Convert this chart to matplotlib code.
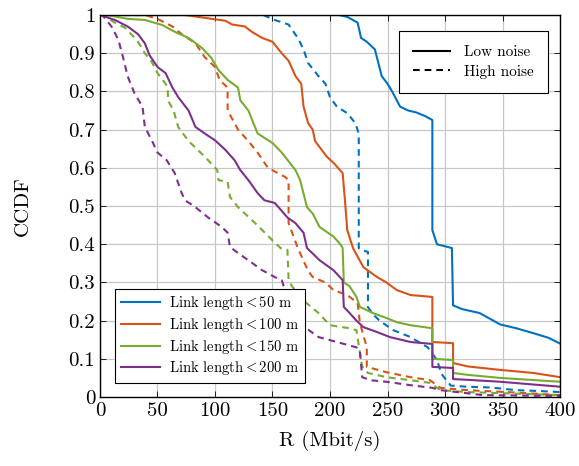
import matplotlib
matplotlib.use("Agg")
import matplotlib.pyplot as plt
from matplotlib.lines import Line2D

plt.rcParams["font.family"] = "cmr10"
plt.rcParams["mathtext.fontset"] = "cm"
plt.rcParams["axes.formatter.use_mathtext"] = True

# cores padrao do MATLAB
C_BLUE = "#0072BD"
C_ORANGE = "#D95319"
C_GREEN = "#77AC30"
C_PURPLE = "#7E2F8E"

labels = ["Link length$<$50 m", "Link length$<$100 m",
          "Link length$<$150 m", "Link length$<$200 m"]

# link < 50 m
low50_x = [0, 208, 215, 224, 227, 232, 239, 245, 250, 254, 261, 268, 275, 283, 289, 289,
           293, 306, 307, 315, 330, 348, 362, 377, 390, 400]
low50_y = [1, 1, 0.995, 0.98, 0.94, 0.93, 0.91, 0.84, 0.82, 0.80, 0.76, 0.75, 0.745, 0.735,
           0.725, 0.437, 0.40, 0.39, 0.24, 0.23, 0.22, 0.19, 0.18, 0.167, 0.155, 0.14]
high50_x = [0, 142, 152, 164, 172, 177, 181, 190, 196, 200, 206, 215, 222, 225, 225, 227,
            233, 233, 238, 243, 255, 270, 285, 293, 297, 305, 319, 340, 362, 380, 400]
high50_y = [1, 1, 0.987, 0.975, 0.94, 0.91, 0.874, 0.84, 0.82, 0.785, 0.76, 0.743, 0.717,
            0.69, 0.39, 0.385, 0.38, 0.235, 0.215, 0.2, 0.175, 0.157, 0.13, 0.097, 0.06,
            0.03, 0.027, 0.025, 0.018, 0.016, 0.013]

# link < 100 m
low100_x = [0, 74, 97, 109, 115, 126, 132, 141, 150, 158, 164, 170, 175, 177, 181, 185, 187,
            197, 204, 211, 213, 215, 220, 229, 241, 249, 258, 270, 289, 289, 307, 307, 320,
            348, 377, 400]
low100_y = [1, 1, 0.99, 0.985, 0.975, 0.97, 0.956, 0.94, 0.93, 0.90, 0.88, 0.84, 0.82, 0.76,
            0.717, 0.70, 0.67, 0.63, 0.61, 0.586, 0.515, 0.437, 0.39, 0.34, 0.314, 0.30, 0.28,
            0.267, 0.262, 0.144, 0.141, 0.089, 0.08, 0.071, 0.063, 0.052]
high100_x = [0, 39, 50, 63, 71, 83, 91, 100, 104, 111, 111, 120, 129, 137, 146, 161, 164, 164,
             172, 181, 185, 196, 203, 215, 224, 226, 232, 232, 249, 270, 287, 296, 319, 360, 400]
high100_y = [1, 1, 0.99, 0.97, 0.95, 0.926, 0.89, 0.864, 0.83, 0.81, 0.75, 0.70, 0.67, 0.64,
             0.60, 0.576, 0.568, 0.455, 0.39, 0.33, 0.314, 0.30, 0.28, 0.267, 0.246, 0.194,
             0.13, 0.079, 0.065, 0.052, 0.044, 0.024, 0.018, 0.012, 0.005]

# link < 150 m
low150_x = [0, 10, 24, 39, 54, 65, 77, 89, 97, 103, 111, 120, 122, 129, 137, 150, 158, 170,
            174, 180, 185, 191, 203, 209, 211, 212, 217, 223, 226, 237, 249, 258, 270, 289,
            289, 307, 307, 320, 348, 400]
low150_y = [1, 0.998, 0.99, 0.987, 0.974, 0.956, 0.94, 0.913, 0.887, 0.856, 0.83, 0.81, 0.777,
            0.75, 0.69, 0.665, 0.64, 0.594, 0.568, 0.497, 0.48, 0.445, 0.42, 0.40, 0.39, 0.30,
            0.29, 0.262, 0.236, 0.22, 0.207, 0.196, 0.188, 0.18, 0.10, 0.097, 0.063, 0.058,
            0.05, 0.04]
high150_x = [0, 2, 13, 22, 28, 33, 39, 45, 50, 57, 59, 59, 64, 68, 77, 85, 94, 102, 103, 111,
             113, 120, 135, 150, 157, 163, 164, 167, 176, 190, 200, 217, 223, 226, 228, 233,
             249, 270, 287, 296, 319, 360, 400]
high150_y = [1, 1, 0.98, 0.966, 0.947, 0.93, 0.90, 0.877, 0.848, 0.82, 0.81, 0.777, 0.75,
             0.707, 0.67, 0.647, 0.62, 0.594, 0.568, 0.563, 0.524, 0.497, 0.455, 0.41, 0.39,
             0.385, 0.306, 0.29, 0.255, 0.22, 0.188, 0.18, 0.175, 0.115, 0.08, 0.063, 0.052,
             0.044, 0.037, 0.018, 0.013, 0.009, 0.005]

# link < 200 m
low200_x = [0, 13, 24, 33, 39, 43, 50, 57, 63, 68, 77, 83, 91, 100, 109, 117, 122, 129, 137,
            143, 152, 163, 170, 177, 180, 191, 203, 211, 212, 217, 223, 229, 241, 252, 270,
            289, 289, 307, 307, 320, 348, 400]
low200_y = [1, 0.987, 0.97, 0.95, 0.926, 0.895, 0.864, 0.848, 0.81, 0.785, 0.75, 0.707, 0.69,
            0.672, 0.647, 0.62, 0.594, 0.568, 0.534, 0.515, 0.508, 0.47, 0.455, 0.43, 0.39,
            0.358, 0.332, 0.306, 0.236, 0.22, 0.20, 0.183, 0.17, 0.157, 0.144, 0.139, 0.079,
            0.076, 0.047, 0.045, 0.04, 0.027]
high200_x = [0, 2, 10, 16, 20, 24, 30, 37, 39, 45, 50, 58, 65, 71, 74, 83, 94, 106, 111, 113,
             120, 129, 141, 152, 158, 170, 190, 206, 223, 226, 228, 235, 249, 270, 289, 296,
             319, 333, 400]
high200_y = [1, 1, 0.97, 0.935, 0.89, 0.84, 0.795, 0.76, 0.707, 0.672, 0.64, 0.62, 0.586,
             0.534, 0.515, 0.497, 0.47, 0.445, 0.43, 0.393, 0.377, 0.358, 0.332, 0.314, 0.306,
             0.2, 0.157, 0.144, 0.13, 0.12, 0.052, 0.044, 0.04, 0.031, 0.024, 0.018, 0.01,
             0.005, 0.003]

x_ticks = [0, 50, 100, 150, 200, 250, 300, 350, 400]
y_ticks = [0, 0.1, 0.2, 0.3, 0.4, 0.5, 0.6, 0.7, 0.8, 0.9, 1]
y_ticklabels = ["0", "0.1", "0.2", "0.3", "0.4", "0.5", "0.6", "0.7", "0.8", "0.9", "1"]

series = [
    (low50_x, low50_y, high50_x, high50_y, C_BLUE),
    (low100_x, low100_y, high100_x, high100_y, C_ORANGE),
    (low150_x, low150_y, high150_x, high150_y, C_GREEN),
    (low200_x, low200_y, high200_x, high200_y, C_PURPLE),
]

fig = plt.figure(figsize=(5.79, 4.66), dpi=100)
ax = fig.add_axes([0.1727, 0.148, 0.7945, 0.8198])

lw = 1.5
for lx, ly, hx, hy, col in series:
    ax.plot(lx, ly, color=col, lw=lw, zorder=3)
    ax.plot(hx, hy, color=col, lw=lw, ls=(0, (3.2, 2.4)), zorder=3)

ax.set_xlim(0, 400)
ax.set_ylim(0, 1)
ax.set_xticks(x_ticks)
ax.set_xticklabels([str(v) for v in x_ticks])
ax.set_yticks(y_ticks)
ax.set_yticklabels(y_ticklabels)
ax.tick_params(direction="in", top=True, right=True, labelsize=15, length=4, width=0.6)
ax.grid(True, color="#c8c8c8", lw=0.9, zorder=0)
for sp in ax.spines.values():
    sp.set_linewidth(1.0)
    sp.set_zorder(5)

ax.set_xlabel("R (Mbit/s)", fontsize=15, labelpad=8)
ax.set_ylabel("CCDF", fontsize=15, labelpad=26)

# legenda de ruido (canto superior direito)
noise_handles = [Line2D([], [], color="black", lw=1.5),
                 Line2D([], [], color="black", lw=1.5, ls=(0, (3.2, 2.4)))]
leg1 = ax.legend(noise_handles, ["Low noise", "High noise"], loc="upper right",
                 bbox_to_anchor=(0.974, 0.958), fontsize=11, fancybox=False,
                 edgecolor="black", framealpha=1, handlelength=2.4, handletextpad=0.9,
                 borderpad=0.95, borderaxespad=0, labelspacing=0.35)
leg1.get_frame().set_linewidth(0.8)
ax.add_artist(leg1)

# legenda de comprimento do enlace (canto inferior esquerdo)
len_handles = [Line2D([], [], color=s[4], lw=1.5) for s in series]
leg2 = ax.legend(len_handles, labels, loc="lower left", bbox_to_anchor=(0.033, 0.037),
                 fontsize=10.5, fancybox=False, edgecolor="black", framealpha=1,
                 handlelength=2.7, handletextpad=0.6, borderpad=0.38, borderaxespad=0,
                 labelspacing=0.25)
leg2.get_frame().set_linewidth(0.8)
leg2.set_zorder(6)

fig.savefig("out.png", dpi=100)
